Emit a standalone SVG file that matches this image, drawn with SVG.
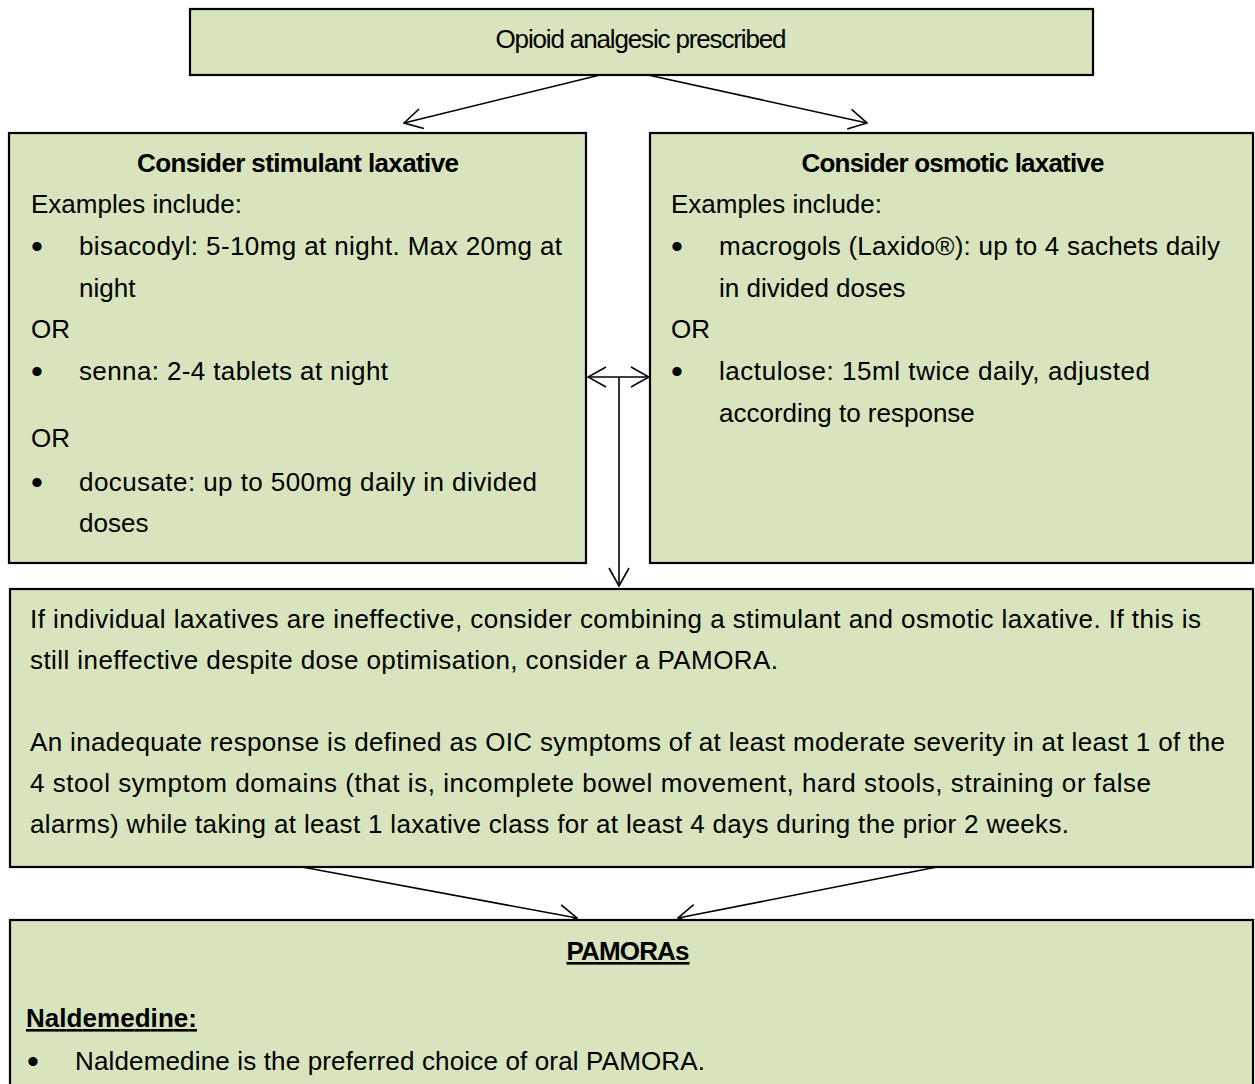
<svg xmlns="http://www.w3.org/2000/svg" width="1255" height="1084" viewBox="0 0 1255 1084">
<style>
.box{fill:#D7E4BD;stroke:#000;stroke-width:2.2}
.t{font-family:"Liberation Sans",Arial,sans-serif;font-size:26px;fill:#000}
.h{font-family:"Liberation Sans",Arial,sans-serif;font-size:26px;font-weight:bold;fill:#000}
.u{text-decoration:underline}
.b{font-family:"Liberation Sans",Arial,sans-serif;font-size:34px;fill:#000}
.c{fill:none;stroke:#000;stroke-width:1.6}
</style>
<defs>
<marker id="ah" markerUnits="userSpaceOnUse" viewBox="0 0 20 22" markerWidth="20" markerHeight="22" refX="19" refY="11" orient="auto-start-reverse">
<path d="M1,1 L19,11 L1,21" fill="none" stroke="#000" stroke-width="1.6"/>
</marker>
</defs>
<rect x="0" y="0" width="1255" height="1084" fill="#fff"/>

<g id="connectors">
<line class="c" x1="600" y1="75" x2="404" y2="123" marker-end="url(#ah)"/>
<line class="c" x1="648" y1="75" x2="867" y2="123" marker-end="url(#ah)"/>
<line class="c" x1="588" y1="377" x2="649" y2="377" marker-start="url(#ah)" marker-end="url(#ah)"/>
<line class="c" x1="619" y1="377" x2="619" y2="586" marker-end="url(#ah)"/>
<line class="c" x1="302" y1="867" x2="577" y2="918" marker-end="url(#ah)"/>
<line class="c" x1="937" y1="867" x2="678" y2="918" marker-end="url(#ah)"/>
</g>

<g id="node-opioid">
<rect class="box" x="190" y="9" width="903" height="66"/>
<text class="t" x="641" y="48" text-anchor="middle" font-size="24" textLength="291">Opioid analgesic prescribed</text>
</g>

<g id="node-stimulant">
<rect class="box" x="9" y="133" width="577" height="430"/>
<text class="h" x="298" y="172" text-anchor="middle" textLength="322">Consider stimulant laxative</text>
<text class="t" x="31" y="213" textLength="211">Examples include:</text>
<text class="b" x="31" y="258">•</text>
<text class="t" x="79" y="255" textLength="483">bisacodyl: 5-10mg at night. Max 20mg at</text>
<text class="t" x="79" y="297">night</text>
<text class="t" x="31" y="338">OR</text>
<text class="b" x="31" y="383">•</text>
<text class="t" x="79" y="380" textLength="309">senna: 2-4 tablets at night</text>
<text class="t" x="31" y="447">OR</text>
<text class="b" x="31" y="494">•</text>
<text class="t" x="79" y="491" textLength="458">docusate: up to 500mg daily in divided</text>
<text class="t" x="79" y="532">doses</text>
</g>

<g id="node-osmotic">
<rect class="box" x="650" y="133" width="603" height="430"/>
<text class="h" x="953" y="172" text-anchor="middle" textLength="303">Consider osmotic laxative</text>
<text class="t" x="671" y="213" textLength="211">Examples include:</text>
<text class="b" x="671" y="258">•</text>
<text class="t" x="719" y="255" textLength="501">macrogols (Laxido®):  up to 4 sachets daily</text>
<text class="t" x="719" y="297">in divided doses</text>
<text class="t" x="671" y="338">OR</text>
<text class="b" x="671" y="383">•</text>
<text class="t" x="719" y="380" textLength="431">lactulose: 15ml twice daily, adjusted</text>
<text class="t" x="719" y="422">according to response</text>
</g>

<g id="node-combine">
<rect class="box" x="10" y="589" width="1243" height="278"/>
<text class="t" x="30" y="628" textLength="1171">If individual laxatives are ineffective, consider combining a stimulant and osmotic laxative. If this is</text>
<text class="t" x="30" y="669" textLength="748">still ineffective despite dose optimisation, consider a PAMORA.</text>
<text class="t" x="30" y="751" textLength="1195">An inadequate response is defined as OIC symptoms of at least moderate severity in at least 1 of the</text>
<text class="t" x="30" y="792" textLength="1121">4 stool symptom domains (that is, incomplete bowel movement, hard stools, straining or false</text>
<text class="t" x="30" y="833" textLength="1039">alarms) while taking at least 1 laxative class for at least 4 days during the prior 2 weeks.</text>
</g>

<g id="node-pamora">
<rect class="box" x="10" y="920" width="1243" height="180"/>
<text class="h u" x="628" y="960" text-anchor="middle" textLength="123">PAMORAs</text>
<text class="h u" x="26" y="1027" textLength="171">Naldemedine:</text>
<text class="b" x="27" y="1073">•</text>
<text class="t" x="75" y="1070" textLength="630">Naldemedine is the preferred choice of oral PAMORA.</text>
</g>
</svg>
